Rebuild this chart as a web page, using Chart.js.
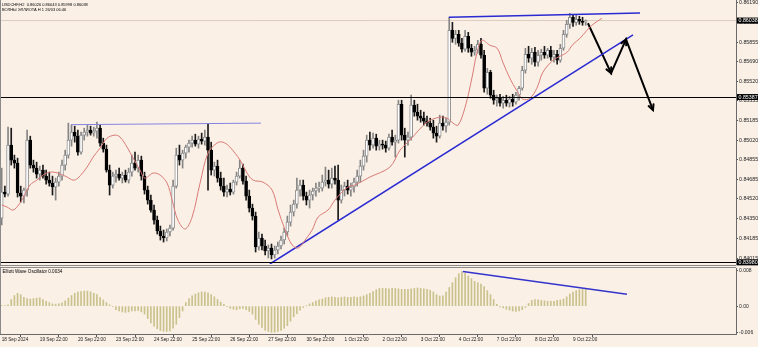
<!DOCTYPE html>
<html><head><meta charset="utf-8">
<script src="https://cdn.jsdelivr.net/npm/chart.js@4"></script>
<style>
html,body{margin:0;padding:0;background:#FAF0E6;}
#wrap{position:relative;width:758px;height:347px;overflow:hidden;background:#FAF0E6;}
#c1{position:absolute;left:0;top:0;}
#c2{position:absolute;left:0;top:267px;}
</style></head><body>
<div id="wrap"><canvas id="c1" width="758" height="267"></canvas><canvas id="c2" width="758" height="80"></canvas></div>
<script>
// ---- data (USDCHF H2) ----
const opens = [
0.84357,0.84578,0.84561,0.84978,0.84850,0.84825,0.84570,0.84544,0.84595,0.85020,
0.84808,0.84782,0.84731,0.84765,0.84714,0.84680,0.84655,0.84621,0.84663,0.84714,
0.84808,0.84893,0.85020,0.85088,0.85054,0.84918,0.85063,0.85088,0.85105,0.85080,
0.85097,0.85122,0.84995,0.84944,0.84765,0.84638,0.84714,0.84731,0.84697,0.84723,
0.84680,0.84748,0.84825,0.84782,0.84850,0.84714,0.84595,0.84510,0.84425,0.84340,
0.84247,0.84204,0.84187,0.84238,0.84272,0.84629,0.84893,0.84850,0.84910,0.84961,
0.84995,0.85020,0.84986,0.85029,0.85012,0.85046,0.84935,0.84765,0.84799,0.84697,
0.84629,0.84578,0.84604,0.84578,0.84663,0.84714,0.84782,0.84672,0.84544,0.84442,
0.84374,0.84111,0.84187,0.84119,0.84077,0.84102,0.84043,0.84085,0.84119,0.84170,
0.84238,0.84323,0.84408,0.84476,0.84595,0.84638,0.84544,0.84510,0.84553,0.84587,
0.84612,
0.84612,0.84663,0.84680,0.84646,0.84697,0.84680,0.84510,0.84595,0.84629,0.84595,
0.84621,0.84663,0.84714,0.84799,0.84884,0.85020,0.84978,0.85037,0.84969,0.84986,
0.84978,0.84952,0.85046,0.85003,0.85020,0.85326,0.85063,0.85020,0.85046,0.85318,
0.85258,0.85224,0.85207,0.85182,0.85165,0.85131,0.85080,0.85054,0.85165,0.85139,
0.85173,0.85955,0.85887,0.85921,0.85845,0.85794,0.85904,0.85802,0.85768,0.85785,
0.85836,0.85743,0.85462,0.85598,0.85403,0.85360,0.85377,0.85335,0.85360,0.85335,
0.85369,0.85343,0.85403,0.85462,0.85615,0.85751,0.85717,0.85768,0.85683,0.85743,
0.85768,0.85743,0.85785,0.85726,0.85751,0.85700,0.85802,0.85921,0.86006,0.86066,
0.86023,0.86049,0.86032,0.86026];
const highs = [
0.84782,0.84629,0.85131,0.85122,0.84893,0.84867,0.84629,0.84612,0.85105,0.85054,
0.84850,0.84833,0.84799,0.84808,0.84765,0.84748,0.84714,0.84697,0.84748,0.84850,
0.84935,0.85165,0.85148,0.85139,0.85105,0.85088,0.85122,0.85148,0.85139,0.85131,
0.85173,0.85148,0.85037,0.84978,0.84808,0.84748,0.84765,0.84782,0.84748,0.84765,
0.84782,0.84893,0.84918,0.84893,0.84884,0.84748,0.84629,0.84553,0.84468,0.84374,
0.84289,0.84255,0.84264,0.84298,0.84680,0.84952,0.84978,0.84935,0.84978,0.85020,
0.85054,0.85071,0.85054,0.85080,0.85105,0.85156,0.85003,0.84833,0.84850,0.84748,
0.84697,0.84638,0.84655,0.84680,0.84748,0.84850,0.84816,0.84714,0.84595,0.84476,
0.84408,0.84238,0.84221,0.84170,0.84128,0.84136,0.84119,0.84153,0.84204,0.84272,
0.84374,0.84468,0.84510,0.84697,0.84680,0.84680,0.84578,0.84595,0.84612,0.84655,
0.84663,
0.84723,0.84791,0.84765,0.84782,0.84799,0.84808,0.84638,0.84663,0.84680,0.84655,
0.84697,0.84765,0.84850,0.84935,0.85063,0.85088,0.85080,0.85071,0.85020,0.85020,
0.85012,0.85071,0.85105,0.85063,0.85360,0.85360,0.85122,0.85088,0.85403,0.85360,
0.85326,0.85275,0.85258,0.85224,0.85207,0.85190,0.85139,0.85233,0.85224,0.85207,
0.86066,0.86023,0.85955,0.85955,0.85887,0.85955,0.85938,0.85836,0.85819,0.85870,
0.85887,0.85785,0.85632,0.85615,0.85445,0.85403,0.85411,0.85394,0.85403,0.85394,
0.85411,0.85428,0.85479,0.85649,0.85802,0.85819,0.85802,0.85811,0.85785,0.85794,
0.85819,0.85802,0.85819,0.85785,0.85785,0.85836,0.85955,0.86040,0.86100,0.86091,
0.86083,0.86074,0.86066,0.86043];
const lows = [
0.84298,0.84536,0.84544,0.84808,0.84782,0.84536,0.84493,0.84485,0.84544,0.84782,
0.84748,0.84697,0.84680,0.84697,0.84646,0.84629,0.84553,0.84510,0.84629,0.84680,
0.84765,0.84867,0.84969,0.85003,0.84893,0.84901,0.85020,0.85054,0.85063,0.85054,
0.85037,0.84969,0.84918,0.84748,0.84553,0.84612,0.84663,0.84680,0.84655,0.84663,
0.84655,0.84714,0.84765,0.84748,0.84680,0.84561,0.84476,0.84408,0.84306,0.84221,
0.84170,0.84153,0.84162,0.84204,0.84255,0.84612,0.84808,0.84782,0.84867,0.84918,
0.84961,0.84969,0.84952,0.84986,0.84978,0.84595,0.84723,0.84714,0.84663,0.84595,
0.84544,0.84536,0.84553,0.84561,0.84638,0.84697,0.84646,0.84510,0.84408,0.84340,
0.84068,0.84085,0.84085,0.84043,0.84017,0.84009,0.84017,0.84051,0.84094,0.84136,
0.84204,0.84289,0.84374,0.84442,0.84544,0.84510,0.84468,0.84442,0.84510,0.84544,
0.84578,
0.84587,0.84629,0.84612,0.84612,0.84646,0.84340,0.84485,0.84544,0.84561,0.84544,
0.84578,0.84629,0.84663,0.84765,0.84833,0.84935,0.84952,0.84935,0.84935,0.84944,
0.84918,0.84935,0.84978,0.84876,0.84995,0.85020,0.84876,0.84978,0.85020,0.85224,
0.85190,0.85173,0.85148,0.85139,0.85105,0.85037,0.85003,0.85037,0.85105,0.85088,
0.85148,0.85853,0.85836,0.85819,0.85768,0.85777,0.85768,0.85734,0.85743,0.85760,
0.85717,0.85428,0.85411,0.85377,0.85326,0.85309,0.85309,0.85292,0.85309,0.85301,
0.85309,0.85326,0.85360,0.85445,0.85590,0.85683,0.85666,0.85649,0.85649,0.85700,
0.85717,0.85717,0.85700,0.85683,0.85666,0.85683,0.85785,0.85896,0.85972,0.85989,
0.85998,0.86006,0.85998,0.85998];
const closes = [
0.84578,0.84561,0.84978,0.84850,0.84825,0.84570,0.84544,0.84595,0.85020,0.84808,
0.84782,0.84731,0.84765,0.84714,0.84680,0.84655,0.84621,0.84663,0.84714,0.84808,
0.84893,0.85020,0.85088,0.85054,0.84918,0.85063,0.85088,0.85105,0.85080,0.85097,
0.85122,0.84995,0.84944,0.84765,0.84638,0.84714,0.84731,0.84697,0.84723,0.84680,
0.84748,0.84825,0.84782,0.84850,0.84714,0.84595,0.84510,0.84425,0.84340,0.84247,
0.84204,0.84187,0.84238,0.84272,0.84629,0.84893,0.84850,0.84910,0.84961,0.84995,
0.85020,0.84986,0.85029,0.85012,0.85046,0.84935,0.84765,0.84799,0.84697,0.84629,
0.84578,0.84604,0.84578,0.84663,0.84714,0.84782,0.84672,0.84544,0.84442,0.84374,
0.84111,0.84187,0.84119,0.84077,0.84102,0.84043,0.84085,0.84119,0.84170,0.84238,
0.84323,0.84408,0.84476,0.84595,0.84638,0.84544,0.84510,0.84553,0.84587,0.84612,
0.84612,
0.84663,0.84680,0.84646,0.84697,0.84680,0.84510,0.84595,0.84629,0.84595,0.84621,
0.84663,0.84714,0.84799,0.84884,0.85020,0.84978,0.85037,0.84969,0.84986,0.84978,
0.84952,0.85046,0.85003,0.85020,0.85326,0.85063,0.85020,0.85046,0.85318,0.85258,
0.85224,0.85207,0.85182,0.85165,0.85131,0.85080,0.85054,0.85165,0.85139,0.85173,
0.85955,0.85887,0.85921,0.85845,0.85794,0.85904,0.85802,0.85768,0.85785,0.85836,
0.85743,0.85462,0.85598,0.85403,0.85360,0.85377,0.85335,0.85360,0.85335,0.85369,
0.85343,0.85403,0.85462,0.85615,0.85751,0.85717,0.85768,0.85683,0.85743,0.85768,
0.85743,0.85785,0.85726,0.85751,0.85700,0.85802,0.85921,0.86006,0.86066,0.86023,
0.86049,0.86032,0.86023,0.86038];
// Elliott Wave Oscillator histogram
const oscValues = [
0.0001,0.00015,0.0003,0.0015,0.0024,0.0029,0.0026,0.0020,0.0017,0.0016,
0.0017,0.0018,0.0019,0.0015,0.0011,0.0008,0.0005,0.00045,0.0005,0.00075,
0.0012,0.0018,0.0024,0.0029,0.0032,0.0033,0.0034,0.0034,0.0032,0.0029,
0.0026,0.0020,0.0014,0.0008,0.0003,-0.0001,-0.0008,-0.0011,-0.0013,-0.0014,
-0.0013,-0.0011,-0.0011,-0.0010,-0.0013,-0.0018,-0.0028,-0.0038,-0.0045,-0.0051,
-0.0055,-0.0057,-0.0057,-0.0056,-0.0050,-0.0041,-0.0026,-0.0011,0.0008,0.0017,
0.0023,0.0027,0.0030,0.0032,0.0032,0.0030,0.0026,0.0021,0.0015,0.0009,
0.0004,-0.0001,-0.0005,-0.0007,-0.0008,-0.0006,-0.0005,-0.0008,-0.0012,-0.0018,
-0.0030,-0.0041,-0.0048,-0.0054,-0.0057,-0.0059,-0.0059,-0.0057,-0.0055,-0.0050,
-0.0044,-0.0034,-0.0024,-0.0017,-0.0009,-0.0003,0.00015,0.0005,0.0008,0.0012,
0.0014,
0.0016,0.0019,0.0020,0.0021,0.0020,0.0019,0.0020,0.0021,0.0020,0.0020,
0.0021,0.0020,0.0021,0.0023,0.0026,0.0029,0.0033,0.0037,0.0040,0.0040,
0.0040,0.0039,0.0040,0.0040,0.0039,0.0038,0.0038,0.0038,0.0039,0.0040,
0.0041,0.0040,0.0039,0.0038,0.0036,0.0032,0.0026,0.0023,0.0023,0.0032,
0.0042,0.0053,0.0064,0.0073,0.0078,0.0074,0.0068,0.0062,0.0056,0.0053,
0.0050,0.0044,0.0035,0.0026,0.0015,0.0004,-0.0002,-0.0004,-0.0007,-0.0009,
-0.0011,-0.0012,-0.0011,-0.0008,-0.0003,0.0006,0.0013,0.0015,0.0014,0.0013,
0.0012,0.0011,0.0011,0.0011,0.0013,0.0014,0.0016,0.0021,0.0027,0.0032,
0.0035,0.0037,0.0038,0.0038];
// shifted moving average (bar position, price)
const maX = [0,1.7,3.6,5.8,6.7,8.9,11.1,13,15.2,17.7,20.6,22.5,24,26.9,28.8,31,33.2,35.7,37.3,39.5,41.4,43.6,45.1,47.7,49.9,52.1,53.7,55.5,57.8,60,62.5,65,67.8,69.7,71.9,75.1,77.3,79.2,82.3,85.2,87.1,89.3,91.5,93.4,95.6,97.8,99.7,102.8,105,107.2,109.1,111.3,116,122.3,125.5,128.6,134,138.1,140.3,142.2,143.8,146,148.2,149.7,151.3,153.8,156.1,157.9,160.1,162.4,164.2,166.4,168.6,170.5,173.7,175.9,178.1,180,182.2,184.4,186.3,189.1];
const maY = [0.84468,0.84451,0.84425,0.84485,0.84527,0.84638,0.84680,0.84723,0.84748,0.84740,0.84706,0.84680,0.84697,0.84791,0.84876,0.84952,0.85037,0.85063,0.85046,0.84961,0.84867,0.84765,0.84697,0.84740,0.84723,0.84655,0.84510,0.84340,0.84264,0.84366,0.84655,0.84910,0.84995,0.85003,0.84961,0.84850,0.84740,0.84680,0.84663,0.84595,0.84425,0.84255,0.84128,0.84102,0.84170,0.84255,0.84366,0.84425,0.84510,0.84578,0.84621,0.84638,0.84706,0.84791,0.84935,0.85020,0.85173,0.85216,0.85207,0.85165,0.85148,0.85301,0.85556,0.85760,0.85870,0.85828,0.85802,0.85683,0.85547,0.85437,0.85369,0.85377,0.85462,0.85598,0.85700,0.85734,0.85768,0.85836,0.85887,0.85955,0.86006,0.86057];
// axis ticks
const yTickVals = [0.86190,0.86025,0.85855,0.85690,0.85520,0.85355,0.85185,0.85020,0.84855,0.84685,0.84520,0.84350,0.84185,0.84015];
const markPrices = [0.86038,0.85387,0.83980];
const hLinePrices = [0.85387,0.83980];
const bidPrice = 0.86038;
const xTickIdx = [0,12,24,36,48,60,72,84,96,108,120,132,144,156,168,180];
const xTickLabels = ['18 Sep 2024','19 Sep 22:00','20 Sep 22:00','23 Sep 22:00','24 Sep 22:00','25 Sep 22:00','26 Sep 22:00','27 Sep 22:00','30 Sep 22:00','1 Oct 22:00','2 Oct 22:00','3 Oct 22:00','4 Oct 22:00','7 Oct 22:00','8 Oct 22:00','9 Oct 22:00'];
const oscTickVals = [0.008,0,-0.006];
const oscTickLabels = ['0.008','0.00','-0.006'];
// drawn objects (bar position, price)
const trendLowX = [84.5,198.9], trendLowY = [0.83966,0.85917];
const trendHighX = [140.9,201.1], trendHighY = [0.86066,0.86102];
const levelX = [21.8,81.7], levelY = [0.85152,0.85165];
const arrowX = [184.7,192.0,196.7,205.2], arrowY = [0.86015,0.85590,0.85878,0.85275];
const oscLineX = [145.3,197.0], oscLineY = [0.0078,0.0027];
const header1 = 'USDCHF,H2  0.86026 0.86043 0.85998 0.86038';
const header2 = 'ВОЛНЫ ЭЛЛИОТА H 1 26/03 06:46';
const oscHeader = 'Elliott Wave Oscillator 0.0034';

// ---- build ----
const X_MIN = -0.536, X_MAX = 231.35;
const FONT = '"Liberation Sans", Arial, sans-serif';
const pts = (xs, ys) => xs.map((x, k) => ({x, y: ys[k]}));
const bull = opens.map((o, i) => closes[i] >= o);
const bodies = opens.map((o, i) => ({x: i, y: [o, closes[i]]}));
const wicks = lows.map((l, i) => ({x: i, y: [l, highs[i]]}));
const oscBars = oscValues.map((v, i) => ({x: i, y: v}));

function fixY(s){ s.width = 22; s.paddingTop = 0; s.paddingBottom = 0; }

const mainDecor = {
  id: 'mainDecor',
  beforeDatasetsDraw(chart) {
    const {ctx, chartArea: a, scales: {y}} = chart;
    ctx.save();
    const yb = y.getPixelForValue(bidPrice);
    ctx.strokeStyle = '#dcccc0'; ctx.lineWidth = 1;
    ctx.beginPath(); ctx.moveTo(a.left, yb); ctx.lineTo(a.right, yb); ctx.stroke();
    ctx.restore();
  },
  afterDatasetsDraw(chart) {
    const {ctx, chartArea: a, scales: {x, y}} = chart;
    ctx.save();
    ctx.strokeStyle = '#000'; ctx.lineWidth = 1;
    hLinePrices.forEach(p => {
      const yy = Math.round(y.getPixelForValue(p)) + 0.5;
      ctx.beginPath(); ctx.moveTo(a.left, yy); ctx.lineTo(a.right, yy); ctx.stroke();
    });
    // arrowheads
    ctx.lineWidth = 2; ctx.lineCap = 'round';
    for (let k = 0; k < arrowX.length - 1; k++) {
      const x0 = x.getPixelForValue(arrowX[k]), y0 = y.getPixelForValue(arrowY[k]);
      const x1 = x.getPixelForValue(arrowX[k+1]), y1 = y.getPixelForValue(arrowY[k+1]);
      const ang = Math.atan2(y1 - y0, x1 - x0), L = 6;
      ctx.beginPath();
      ctx.moveTo(x1 - L*Math.cos(ang - 0.45), y1 - L*Math.sin(ang - 0.45));
      ctx.lineTo(x1, y1);
      ctx.lineTo(x1 - L*Math.cos(ang + 0.45), y1 - L*Math.sin(ang + 0.45));
      ctx.stroke();
    }
    // borders
    ctx.lineWidth = 1; ctx.strokeStyle = '#8a8a8a';
    ctx.beginPath(); ctx.moveTo(0.5, 0); ctx.lineTo(0.5, 266); ctx.stroke();
    ctx.beginPath(); ctx.moveTo(0, 265.5); ctx.lineTo(a.right, 265.5); ctx.stroke();
    // header
    ctx.fillStyle = '#000'; ctx.font = '4px ' + FONT; ctx.textBaseline = 'middle';
    ctx.fillText(header1, 2, 4.5);
    ctx.fillText(header2, 2, 9.5);
    ctx.restore();
  },
  afterDraw(chart) {
    const {ctx, scales: {y}} = chart;
    ctx.save();
    ctx.font = '5.3px ' + FONT; ctx.textBaseline = 'middle';
    markPrices.forEach(p => {
      const yy = y.getPixelForValue(p);
      ctx.fillStyle = '#000'; ctx.fillRect(737, yy - 3, 21, 6);
      ctx.fillStyle = '#fff'; ctx.fillText(p.toFixed(5), 738.5, yy + 0.3);
    });
    ctx.restore();
  }
};

new Chart(document.getElementById('c1'), {
  type: 'bar',
  data: { datasets: [
    {type: 'line', data: pts(maX, maY), borderColor: '#d97a76', borderWidth: 1, pointRadius: 0, tension: 0.35, order: 0},
    {type: 'line', data: pts(trendLowX, trendLowY), borderColor: '#2a2ad2', borderWidth: 1.5, pointRadius: 0, order: 0},
    {type: 'line', data: pts(trendHighX, trendHighY), borderColor: '#2a2ad2', borderWidth: 1.5, pointRadius: 0, order: 0},
    {type: 'line', data: pts(levelX, levelY), borderColor: '#8484e0', borderWidth: 1, pointRadius: 0, order: 0},
    {type: 'line', data: pts(arrowX, arrowY), borderColor: '#000', borderWidth: 2, pointRadius: 0, order: 0},
    {data: bodies, barThickness: 3, minBarLength: 1, grouped: false, borderSkipped: false,
     backgroundColor: bull.map(b => b ? '#ffffff' : '#000000'),
     borderColor: bull.map(b => b ? '#909090' : '#000000'), borderWidth: 1, order: 1},
    {data: wicks, barThickness: 1, grouped: false, borderWidth: 0,
     backgroundColor: bull.map(b => b ? '#858585' : '#1a1a1a'), order: 2}
  ]},
  options: {
    responsive: false, animation: false, events: [],
    layout: {padding: {left: 0, right: 0, top: 0, bottom: 3}},
    plugins: {legend: {display: false}, tooltip: {enabled: false}},
    scales: {
      x: {type: 'linear', min: X_MIN, max: X_MAX, display: false, offset: false},
      y: {position: 'right', min: 0.83966, max: 0.86213, beginAtZero: false,
        afterFit: fixY,
        afterBuildTicks: s => { s.ticks = yTickVals.map(v => ({value: v})); },
        ticks: {autoSkip: false, padding: 1, color: '#222', font: {size: 5.3, family: FONT}, callback: v => v.toFixed(5)},
        grid: {drawOnChartArea: false, tickLength: 2, color: '#555'},
        border: {display: true, color: '#6a6a6a'}
      }
    }
  },
  plugins: [mainDecor]
});

const oscDecor = {
  id: 'oscDecor',
  afterDatasetsDraw(chart) {
    const {ctx, chartArea: a} = chart;
    ctx.save();
    ctx.strokeStyle = '#8a8a8a'; ctx.lineWidth = 1;
    ctx.beginPath(); ctx.moveTo(0, 0.5); ctx.lineTo(a.right, 0.5); ctx.stroke();
    ctx.beginPath(); ctx.moveTo(0.5, 0); ctx.lineTo(0.5, a.bottom); ctx.stroke();
    ctx.fillStyle = '#000'; ctx.font = '4.6px ' + FONT; ctx.textBaseline = 'middle';
    ctx.fillText(oscHeader, 2.5, 5);
    ctx.restore();
  }
};

new Chart(document.getElementById('c2'), {
  type: 'bar',
  data: { datasets: [
    {type: 'line', data: pts(oscLineX, oscLineY), borderColor: '#3434cc', borderWidth: 1.5, pointRadius: 0, order: 0},
    {data: oscBars, barThickness: 1, grouped: false, backgroundColor: '#c9c28c', borderWidth: 0, order: 1}
  ]},
  options: {
    responsive: false, animation: false, events: [],
    layout: {padding: {left: 0, right: 0, top: 1, bottom: 0}},
    plugins: {legend: {display: false}, tooltip: {enabled: false}},
    scales: {
      x: {type: 'linear', min: X_MIN, max: X_MAX, offset: false,
        afterFit: s => { s.height = 13; s.paddingLeft = 0; s.paddingRight = 0; },
        afterBuildTicks: s => { s.ticks = xTickIdx.map(v => ({value: v})); },
        ticks: {align: 'start', autoSkip: false, maxRotation: 0, minRotation: 0, padding: 0, color: '#222',
          font: {size: 4.7, family: FONT}, callback: (v, i) => xTickLabels[i]},
        grid: {drawOnChartArea: false, tickLength: 3, color: '#555'},
        border: {display: true, color: '#6a6a6a'}
      },
      y: {position: 'right', min: -0.00629, max: 0.00861, beginAtZero: false,
        afterFit: fixY,
        afterBuildTicks: s => { s.ticks = oscTickVals.map(v => ({value: v})); },
        ticks: {autoSkip: false, padding: 1, color: '#222', font: {size: 5, family: FONT}, callback: (v, i) => oscTickLabels[i]},
        grid: {drawOnChartArea: false, tickLength: 2, color: '#555'},
        border: {display: true, color: '#6a6a6a'}
      }
    }
  },
  plugins: [oscDecor]
});
</script></body></html>
